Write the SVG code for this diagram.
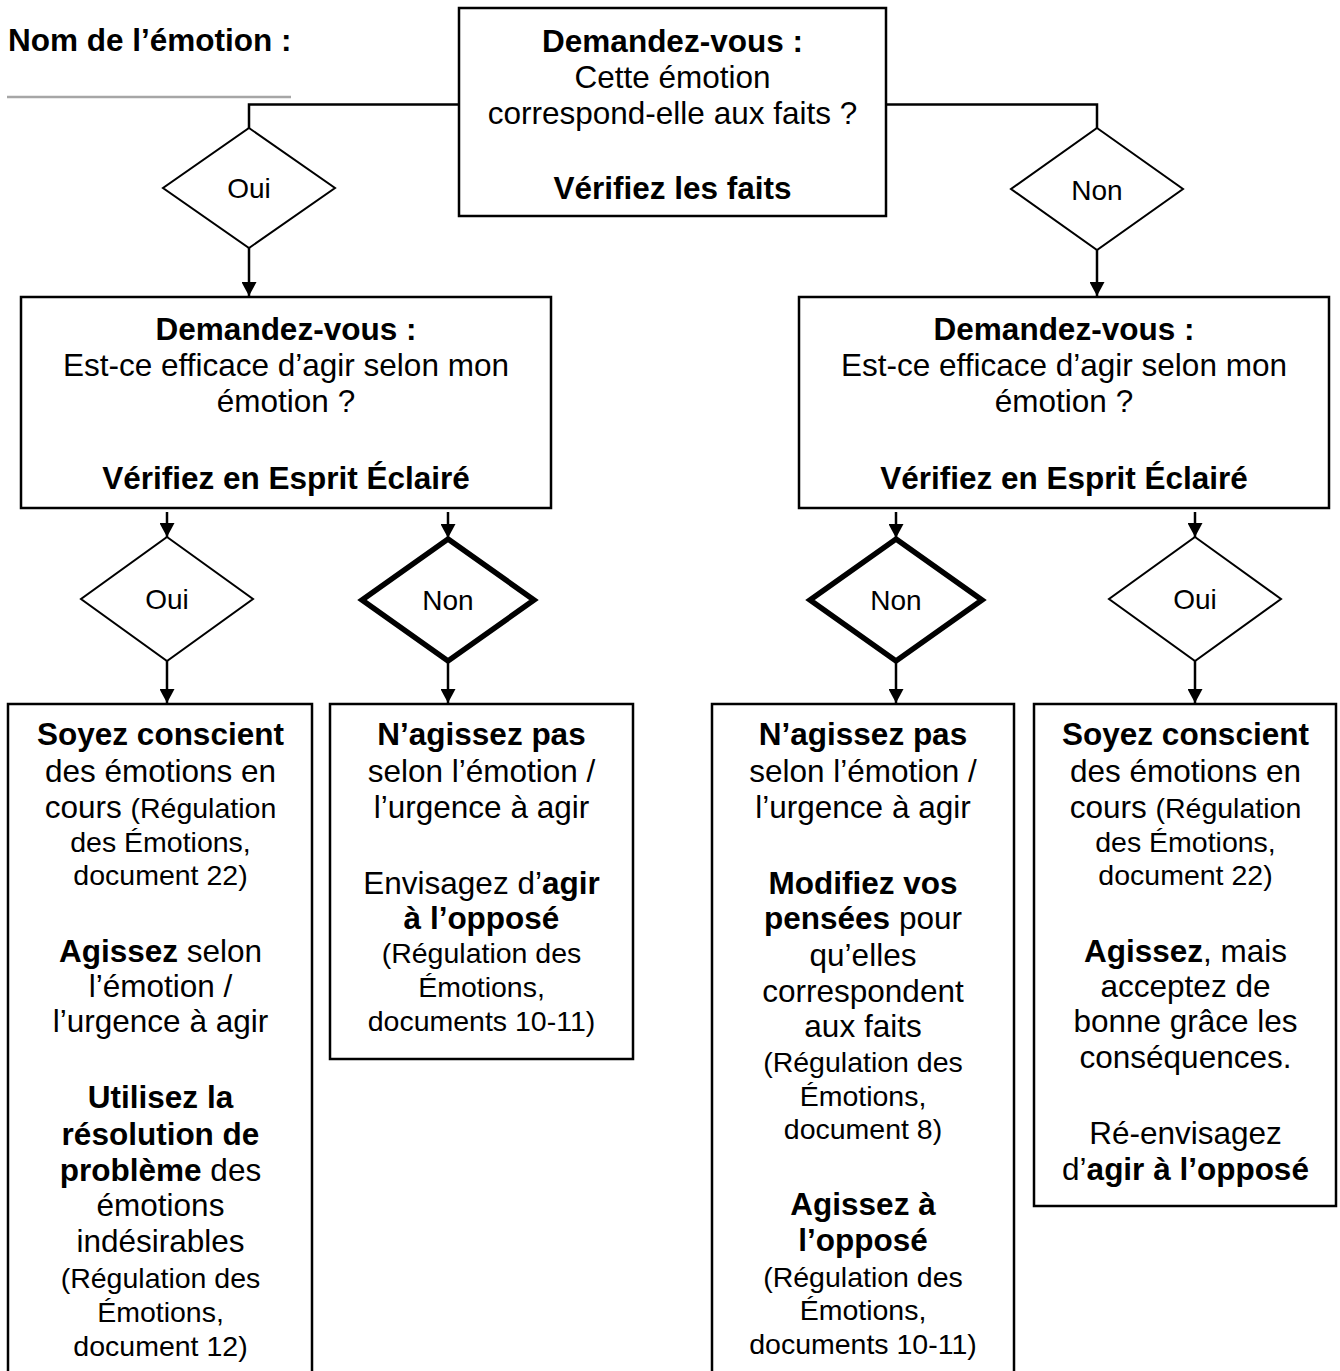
<svg xmlns="http://www.w3.org/2000/svg" width="1340" height="1371" viewBox="0 0 1340 1371">
<defs>
<marker id="ah" markerUnits="userSpaceOnUse" viewBox="0 0 14 15" markerWidth="14" markerHeight="15" refX="14" refY="7.5" orient="auto">
<path d="M0,0 L14,7.5 L0,15 Z" fill="#000"/>
</marker>
<style>
text{font-family:"Liberation Sans",Arial,Helvetica,sans-serif;fill:#000}
.t{font-size:31.5px;text-anchor:middle}
.s{font-size:28.5px}
.b{font-weight:bold}
.lbl{font-size:28px;text-anchor:middle}
.box{fill:#fff;stroke:#000;stroke-width:2.5}
.dia{fill:#fff;stroke:#000;stroke-width:2}
.thick{stroke-width:5.5;stroke-linejoin:miter}
.con{fill:none;stroke:#000;stroke-width:2.5}
.arr{fill:none;stroke:#000;stroke-width:2.5;marker-end:url(#ah)}
</style>
</defs>
<rect x="0" y="0" width="1340" height="1371" fill="#fff"/>

<g id="title">
<text x="8" y="51" style="font-size:31.5px" class="b">Nom de l’émotion :</text>
<line x1="7" y1="97" x2="291" y2="97" stroke="#a6a6a6" stroke-width="2.5"/>
</g>

<g id="connectors">
<path class="con" d="M459,104.5 H249 V128"/>
<path class="con" d="M886,104.5 H1097 V128"/>
<path class="arr" d="M249,248 V296"/>
<path class="arr" d="M1097,250 V296"/>
<path class="arr" d="M167,512 V537"/>
<path class="arr" d="M448,512 V538"/>
<path class="arr" d="M896,512 V538"/>
<path class="arr" d="M1195,512 V537"/>
<path class="arr" d="M167,661 V703"/>
<path class="arr" d="M448,662 V703"/>
<path class="arr" d="M896,662 V703"/>
<path class="arr" d="M1195,661 V703"/>
</g>

<g id="q1">
<rect class="box" x="459" y="8" width="427" height="208"/>
<text class="t b" x="672.5" y="52">Demandez-vous :</text>
<text class="t" x="672.5" y="88">Cette émotion</text>
<text class="t" x="672.5" y="124">correspond-elle aux faits ?</text>
<text class="t b" x="672.5" y="199">Vérifiez les faits</text>
</g>

<g id="d-oui-1">
<polygon class="dia" points="249,128 335,188 249,248 163,188"/>
<text class="lbl" x="249" y="198">Oui</text>
</g>

<g id="d-non-1">
<polygon class="dia" points="1097,128 1183,189 1097,250 1011,189"/>
<text class="lbl" x="1097" y="200">Non</text>
</g>

<g id="q2-left">
<rect class="box" x="21" y="297" width="530" height="211"/>
<text class="t b" x="286" y="340">Demandez-vous :</text>
<text class="t" x="286" y="376">Est-ce efficace d’agir selon mon</text>
<text class="t" x="286" y="412">émotion ?</text>
<text class="t b" x="286" y="489">Vérifiez en Esprit Éclairé</text>
</g>

<g id="q2-right">
<rect class="box" x="799" y="297" width="530" height="211"/>
<text class="t b" x="1064" y="340">Demandez-vous :</text>
<text class="t" x="1064" y="376">Est-ce efficace d’agir selon mon</text>
<text class="t" x="1064" y="412">émotion ?</text>
<text class="t b" x="1064" y="489">Vérifiez en Esprit Éclairé</text>
</g>

<g id="d-oui-2">
<polygon class="dia" points="167,537 253,599 167,661 81,599"/>
<text class="lbl" x="167" y="609">Oui</text>
</g>

<g id="d-non-2">
<polygon class="dia thick" points="448,539 534,600 448,661 362,600"/>
<text class="lbl" x="448" y="610">Non</text>
</g>

<g id="d-non-3">
<polygon class="dia thick" points="896,539 982,600 896,661 810,600"/>
<text class="lbl" x="896" y="610">Non</text>
</g>

<g id="d-oui-3">
<polygon class="dia" points="1195,537 1281,599 1195,661 1109,599"/>
<text class="lbl" x="1195" y="609">Oui</text>
</g>

<g id="a-left">
<rect class="box" x="8" y="704" width="304" height="700"/>
<text class="t b" x="160.5" y="745">Soyez conscient</text>
<text class="t" x="160.5" y="782">des émotions en</text>
<text class="t" x="160.5" y="818">cours <tspan class="s">(Régulation</tspan></text>
<text class="t s" x="160.5" y="852">des Émotions,</text>
<text class="t s" x="160.5" y="885">document 22)</text>
<text class="t" x="160.5" y="962"><tspan class="b">Agissez</tspan> selon</text>
<text class="t" x="160.5" y="997">l’émotion /</text>
<text class="t" x="160.5" y="1032">l’urgence à agir</text>
<text class="t b" x="160.5" y="1108">Utilisez la</text>
<text class="t b" x="160.5" y="1145">résolution de</text>
<text class="t" x="160.5" y="1181"><tspan class="b">problème</tspan> des</text>
<text class="t" x="160.5" y="1216">émotions</text>
<text class="t" x="160.5" y="1252">indésirables</text>
<text class="t s" x="160.5" y="1288">(Régulation des</text>
<text class="t s" x="160.5" y="1322">Émotions,</text>
<text class="t s" x="160.5" y="1356">document 12)</text>
</g>

<g id="b-left">
<rect class="box" x="330" y="704" width="303" height="355"/>
<text class="t b" x="481.5" y="745">N’agissez pas</text>
<text class="t" x="481.5" y="782">selon l’émotion /</text>
<text class="t" x="481.5" y="818">l’urgence à agir</text>
<text class="t" x="481.5" y="894">Envisagez d’<tspan class="b">agir</tspan></text>
<text class="t b" x="481.5" y="929">à l’opposé</text>
<text class="t s" x="481.5" y="963">(Régulation des</text>
<text class="t s" x="481.5" y="997">Émotions,</text>
<text class="t s" x="481.5" y="1031">documents 10-11)</text>
</g>

<g id="c-right">
<rect class="box" x="712" y="704" width="302" height="700"/>
<text class="t b" x="863" y="745">N’agissez pas</text>
<text class="t" x="863" y="782">selon l’émotion /</text>
<text class="t" x="863" y="818">l’urgence à agir</text>
<text class="t b" x="863" y="894">Modifiez vos</text>
<text class="t" x="863" y="929"><tspan class="b">pensées</tspan> pour</text>
<text class="t" x="863" y="966">qu’elles</text>
<text class="t" x="863" y="1002">correspondent</text>
<text class="t" x="863" y="1037">aux faits</text>
<text class="t s" x="863" y="1072">(Régulation des</text>
<text class="t s" x="863" y="1106">Émotions,</text>
<text class="t s" x="863" y="1139">document 8)</text>
<text class="t b" x="863" y="1215">Agissez à</text>
<text class="t b" x="863" y="1251">l’opposé</text>
<text class="t s" x="863" y="1287">(Régulation des</text>
<text class="t s" x="863" y="1320">Émotions,</text>
<text class="t s" x="863" y="1354">documents 10-11)</text>
</g>

<g id="d-right">
<rect class="box" x="1034" y="704" width="302" height="502"/>
<text class="t b" x="1185.5" y="745">Soyez conscient</text>
<text class="t" x="1185.5" y="782">des émotions en</text>
<text class="t" x="1185.5" y="818">cours <tspan class="s">(Régulation</tspan></text>
<text class="t s" x="1185.5" y="852">des Émotions,</text>
<text class="t s" x="1185.5" y="885">document 22)</text>
<text class="t" x="1185.5" y="962"><tspan class="b">Agissez</tspan>, mais</text>
<text class="t" x="1185.5" y="997">acceptez de</text>
<text class="t" x="1185.5" y="1032">bonne grâce les</text>
<text class="t" x="1185.5" y="1068">conséquences.</text>
<text class="t" x="1185.5" y="1144">Ré-envisagez</text>
<text class="t" x="1185.5" y="1180">d’<tspan class="b">agir à l’opposé</tspan></text>
</g>
</svg>
